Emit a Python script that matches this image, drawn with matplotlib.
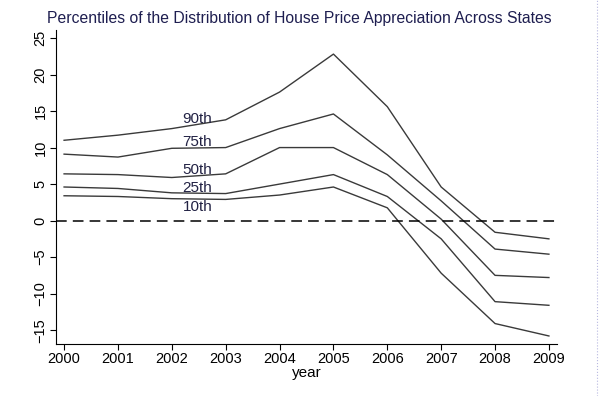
import matplotlib
matplotlib.use("Agg")
import matplotlib.pyplot as plt
from matplotlib.lines import Line2D

plt.rcParams['font.family'] = ['Liberation Sans', 'DejaVu Sans']

# Percentiles of house price appreciation across states (percent)
years = [2000, 2001, 2002, 2003, 2004, 2005, 2006, 2007, 2008, 2009]
p90 = [11.0, 11.7, 12.6, 13.8, 17.6, 22.8, 15.6, 4.6, -1.6, -2.5]
p75 = [9.1, 8.7, 9.9, 10.0, 12.6, 14.6, 9.0, 2.7, -3.9, -4.6]
p50 = [6.4, 6.3, 5.9, 6.4, 10.0, 10.0, 6.3, 0.2, -7.5, -7.8]
p25 = [4.6, 4.4, 3.8, 3.7, 5.0, 6.3, 3.3, -2.5, -11.1, -11.6]
p10 = [3.4, 3.3, 3.0, 2.9, 3.5, 4.6, 1.75, -7.2, -14.1, -15.8]

labels = ['90th', '75th', '50th', '25th', '10th']
label_y = [13.9, 10.7, 6.9, 4.4, 1.8]

fig = plt.figure(figsize=(6, 3.96), dpi=100)
ax = fig.add_axes([56/600, 1 - 344/396, (557 - 56)/600, (344 - 30)/396])

for s in [p90, p75, p50, p25, p10]:
    ax.plot(years, s, color='#3a3a3a', lw=1.0)

ax.axhline(0, color='black', lw=1.1, ls=(0, (7, 4)))

for lab, yv in zip(labels, label_y):
    ax.text(2002.2, yv, lab, fontsize=11, color='#222244', ha='left', va='center')

ax.set_xlim(1999.85, 2009.15)
ax.set_ylim(-16.9, 26.1)
ax.set_xticks(years)
ax.set_yticks(range(-15, 26, 5))
ax.tick_params(axis='y', labelrotation=90, labelsize=10.5, length=4, pad=2)
ax.tick_params(axis='x', labelsize=10.5, length=4, pad=2)
for lbl in ax.get_yticklabels():
    lbl.set_va('center')
ax.spines['top'].set_visible(False)
ax.spines['right'].set_visible(False)
ax.set_xlabel('year', fontsize=11, labelpad=0)

fig.text(47/600, 1 - 18/396, 'Percentiles of the Distribution of House Price Appreciation Across States',
         fontsize=11.3, color='#1e1e50', ha='left', va='center')

# dotted frame edge at the right
fig.add_artist(Line2D([597/600, 597/600], [0, 1], transform=fig.transFigure,
                      color='#b8b8e0', lw=0.8, ls=':'))

fig.savefig('out.png', dpi=100)
